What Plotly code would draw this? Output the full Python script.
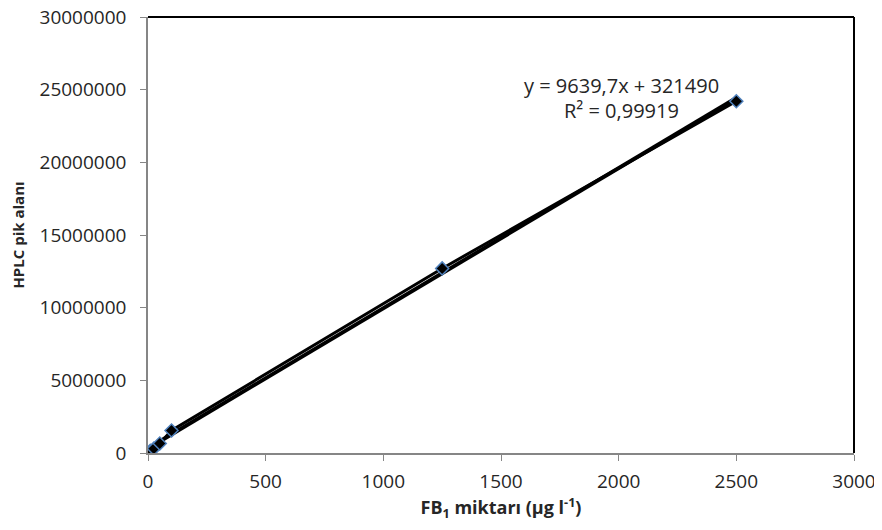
import plotly.graph_objects as go

# Data
fb1_amount = [10, 25, 50, 100, 1250, 2500]
hplc_area = [150000, 300000, 650000, 1550000, 12700000, 24200000]
trend_slope = 9639.7
trend_intercept = 321490
eq_text = "y = 9639,7x + 321490"
r2_text = "R² = 0,99919"
x_ticks = [0, 500, 1000, 1500, 2000, 2500, 3000]
y_ticks = [0, 5000000, 10000000, 15000000, 20000000, 25000000, 30000000]

FONT = "Open Sans, Liberation Sans, sans-serif"
TXT = "#262626"

fig = go.Figure()

tx = [min(fb1_amount), max(fb1_amount)]
ty = [trend_slope * v + trend_intercept for v in tx]
fig.add_trace(go.Scatter(x=tx, y=ty, mode="lines",
                         line=dict(color="black", width=4), showlegend=False,
                         hoverinfo="skip"))
fig.add_trace(go.Scatter(x=fb1_amount, y=hplc_area, mode="lines+markers",
                         line=dict(color="black", width=3),
                         marker=dict(symbol="diamond", size=10, color="black",
                                     line=dict(color="#4F81BD", width=1.5)),
                         showlegend=False))

fig.update_layout(
    width=874, height=522,
    margin=dict(l=140, r=28, t=9, b=77),
    paper_bgcolor="white", plot_bgcolor="white",
    font=dict(family=FONT, size=19, color=TXT),
    shapes=[
        dict(type="line", xref="paper", yref="paper", x0=0, x1=1, y0=1, y1=1,
             line=dict(color="black", width=2)),
        dict(type="line", xref="paper", yref="paper", x0=1, x1=1, y0=0, y1=1,
             line=dict(color="black", width=2)),
    ],
)

fig.add_annotation(x=0.671, y=0.843, xref="paper", yref="paper", text=eq_text,
                   xanchor="center", yanchor="middle",
                   showarrow=False, font=dict(family=FONT, size=20, color=TXT))
fig.add_annotation(x=0.670, y=0.786, xref="paper", yref="paper", text=r2_text,
                   xanchor="center", yanchor="middle",
                   showarrow=False, font=dict(family=FONT, size=20, color=TXT))

fig.update_xaxes(range=[0, 3000], tickvals=x_ticks, ticks="outside", ticklen=6,
                 tickcolor="#868686", showline=True, linecolor="#868686", linewidth=1.5,
                 showgrid=False, zeroline=False, automargin=False, ticklabelstandoff=4,
                 ticklabeloverflow="allow",
                 tickfont=dict(family=FONT, size=19, color=TXT),
                 title=dict(text="<b>FB<sub>1</sub> miktarı (µg l<sup>-1</sup>)</b>",
                            font=dict(family=FONT, size=18, color=TXT), standoff=6))
fig.update_yaxes(range=[0, 30000000], tickvals=y_ticks, tickformat="d", ticks="outside",
                 ticklen=6, tickcolor="#868686", showline=True, linecolor="#868686",
                 linewidth=1.5, showgrid=False, zeroline=False, automargin=False,
                 ticklabelstandoff=10, ticklabeloverflow="allow",
                 tickfont=dict(family=FONT, size=19, color=TXT),
                 title=dict(text="<b>HPLC pik alanı</b>",
                            font=dict(family=FONT, size=15, color=TXT), standoff=12))

fig.write_html("out.html")
